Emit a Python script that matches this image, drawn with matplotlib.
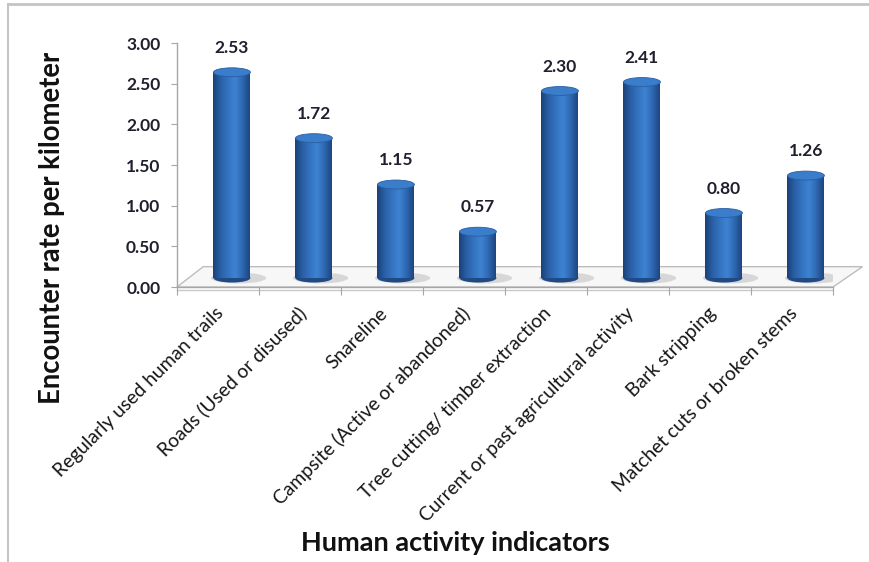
import numpy as np
import matplotlib

matplotlib.use("Agg")
import matplotlib.pyplot as plt
from matplotlib.patches import Ellipse, Polygon
from matplotlib.colors import LinearSegmentedColormap
from matplotlib.lines import Line2D
import matplotlib.transforms as mtransforms

categories = [
    "Regularly used human trails",
    "Roads (Used or disused)",
    "Snareline",
    "Campsite (Active or abandoned)",
    "Tree cutting/ timber extraction",
    "Current or past agricultural activity",
    "Bark stripping",
    "Matchet cuts or broken stems",
]
values = [2.53, 1.72, 1.15, 0.57, 2.30, 2.41, 0.80, 1.26]
yticks = [0.0, 0.5, 1.0, 1.5, 2.0, 2.5, 3.0]

plt.rcParams["font.family"] = ["Lato", "DejaVu Sans"]

fig = plt.figure(figsize=(8.7, 5.62), dpi=100)
ax = fig.add_axes([177 / 870, 1 - 287 / 562, 656 / 870, 244 / 562])

# fake 3d offsets (data units)
depth_dx, depth_dy = 0.34, 0.25
base = 0.11
bar_off = 0.17
bar_w = 0.45
ell_h = 0.11

# floor
n = len(categories)
floor = Polygon([(0, 0), (n, 0), (n + depth_dx + 0.02, depth_dy), (depth_dx - 0.02, depth_dy)],
                closed=True, facecolor="#f7f7f7", edgecolor="#bdbdbd", lw=1.0,
                clip_on=False, zorder=1)
ax.add_patch(floor)
ax.plot([0, n], [-0.04, -0.04], color="#c8c8c8", lw=1.0, clip_on=False, zorder=1)

cyl = LinearSegmentedColormap.from_list(
    "cyl", ["#1b4279", "#2a5fa6", "#3473c0", "#3d83d2", "#2f68b2", "#1c4680"])
grad = np.linspace(0, 1, 64).reshape(1, -1)

for i, v in enumerate(values):
    xc = i + 0.5 + bar_off
    # shadow on floor
    ax.add_patch(Ellipse((xc + 0.08, base), bar_w * 1.5, ell_h * 1.2,
                         facecolor="#b8b8b8", edgecolor="none", alpha=0.5, zorder=2))
    # bottom of cylinder
    ax.add_patch(Ellipse((xc, base), bar_w, ell_h, facecolor="#1f4a86",
                         edgecolor="none", zorder=3))
    rect = ax.bar(xc, v, width=bar_w, bottom=base, color="#2e6bb6",
                  edgecolor="none", zorder=3)[0]
    im = ax.imshow(grad, cmap=cyl, extent=[xc - bar_w / 2, xc + bar_w / 2, base, base + v],
                   aspect="auto", zorder=3.5, interpolation="bicubic")
    im.set_clip_path(rect)
    # top of cylinder
    ax.add_patch(Ellipse((xc, base + v), bar_w, ell_h, facecolor="#3a7dcb",
                         edgecolor="#2a5ea3", lw=0.6, zorder=4))
    ax.text(xc, base + v + 0.3, f"{v:.2f}", ha="center", va="center",
            fontsize=12.5, fontweight="bold", color="#1f1f2e", zorder=5)

ax.set_xlim(0, n)
ax.set_ylim(0, 3.0)

for s in ["top", "right"]:
    ax.spines[s].set_visible(False)
for s in ["left", "bottom"]:
    ax.spines[s].set_color("#a6a6a6")
    ax.spines[s].set_linewidth(1.0)

ax.set_yticks(yticks)
ax.set_yticklabels([f"{t:.2f}" for t in yticks])
ax.tick_params(axis="y", length=4, color="#a6a6a6", pad=8, labelsize=12.5,
               labelcolor="#1f1f2e")
for lab in ax.get_yticklabels():
    lab.set_fontweight("bold")

ax.set_xticks(np.arange(n + 1))
ax.set_xticklabels([])
ax.tick_params(axis="x", which="major", length=6, color="#a6a6a6", direction="out")
ax.set_xticks(np.arange(n) + 0.5, minor=True)
ax.set_xticklabels(categories, minor=True, rotation=45, ha="right", va="center",
                   rotation_mode="anchor", fontsize=13.9, color="#161616")
ax.tick_params(axis="x", which="minor", length=0, pad=17)
shift = mtransforms.ScaledTranslation(3 / 100, 0, fig.dpi_scale_trans)
for lab in ax.get_xticklabels(minor=True):
    lab.set_transform(lab.get_transform() + shift)

fig.text(52 / 870, 1 - 228 / 562, "Encounter rate per kilometer", rotation=90,
         ha="center", va="center", fontsize=19.8, fontweight="bold", color="#111111")
fig.text(455 / 870, 1 - 543 / 562, "Human activity indicators", ha="center",
         va="center", fontsize=19.5, fontweight="bold", color="#111111")

# chart frame (top and left edges only are visible)
fig.add_artist(Line2D([8 / 870, 1], [1 - 4 / 562, 1 - 4 / 562], color="#c4c4c4",
                      lw=2, transform=fig.transFigure))
fig.add_artist(Line2D([8 / 870, 8 / 870], [0, 1 - 4 / 562], color="#c4c4c4",
                      lw=1.5, transform=fig.transFigure))

fig.savefig("out.png", dpi=100)
